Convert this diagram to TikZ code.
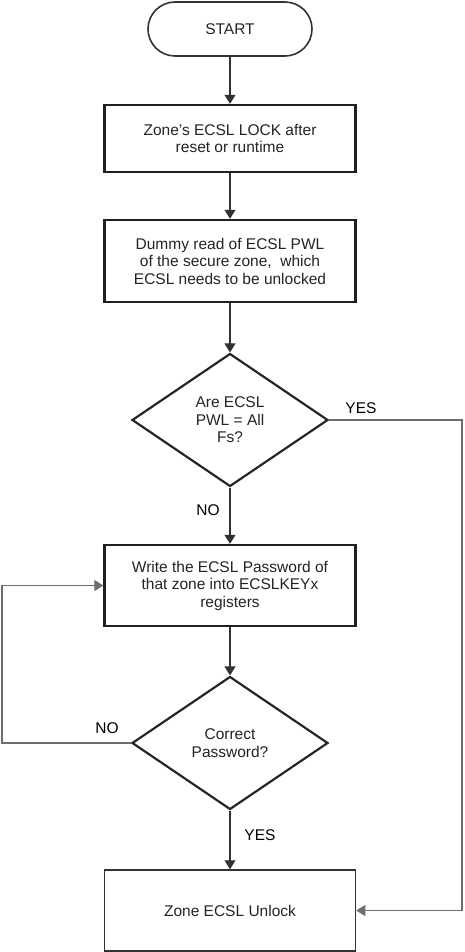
\documentclass[tikz,border=0pt]{standalone}
\usepackage{fontspec}
\setmainfont{Liberation Sans}
\usepackage{tikz}
\usetikzlibrary{shapes.geometric,arrows.meta}
\definecolor{txt}{RGB}{35,35,35}
\definecolor{ln}{RGB}{50,50,50}
\definecolor{lnl}{RGB}{110,110,110}
\tikzstyle{term}=[shape=rectangle,draw=ln,line width=1.6pt,rounded corners=27pt,minimum width=164pt,minimum height=54pt,text=txt]
\tikzstyle{pb}=[shape=rectangle,draw=black!88,line width=2.4pt,minimum width=251pt,inner sep=0pt,align=center,text=txt]
\tikzstyle{dec}=[shape=diamond,draw=black!85,line width=2.2pt,minimum width=196pt,minimum height=133pt,aspect=1.47,inner sep=0pt,align=center,text=txt]
\tikzstyle{lbl}=[inner sep=0pt,text=black]
\tikzstyle{from}=[<-,>={Triangle[length=9pt,width=11pt]},draw=ln,line width=1.2pt]
\tikzstyle{to}=[->,>={Triangle[length=9pt,width=11pt]},draw=ln,line width=1.2pt]

\begin{document}
\begin{tikzpicture}[x=1pt,y=-1pt,font=\fontsize{15.5}{17.5}\selectfont]
            \useasboundingbox (0,0) rectangle (464,952);
            \node[term] (start) at (230, 29) {START}
            ;
            \node[pb, minimum height=67pt] (lock) at (230, 138.5) {Zone's ECSL LOCK after\\reset or runtime}
                edge[from] (start)
            ;
            \node[pb, minimum height=82pt] (dummy) at (230, 261) {Dummy read of ECSL PWL\\of the secure zone,\ \ which\\ECSL needs to be unlocked}
                edge[from] (lock)
            ;
            \node[dec] (allfs) at (230, 420) {Are ECSL\\PWL = All\\Fs?}
                edge[from] (dummy)
            ;
            \node[pb, minimum height=81pt] (write) at (230, 585.5) {Write the ECSL Password of\\that zone into ECSLKEYx\\registers}
                edge[from] (allfs)
            ;
            \node[dec] (pwd) at (230, 743) {Correct\\Password?}
                edge[from] (write)
            ;
            \node[pb, draw=black!80, line width=1.5pt, minimum height=81pt] (unlock) at (230, 910.5) {Zone ECSL Unlock}
                edge[from] (pwd)
            ;
            % labels
            \node[lbl] (yes1) at (361, 408) {YES};
            \node[lbl] (no1) at (208, 510) {NO};
            \node[lbl] (no2) at (107, 728) {NO};
            \node[lbl] (yes2) at (260, 835) {YES};
            % side lines
            \coordinate (rt) at (462, 420);
            \coordinate (lt) at (2, 743);
            \draw[to, draw=lnl] (allfs.east) -- (rt) |- (unlock.east);
            \draw[to, draw=lnl] (pwd.west) -- (lt) |- (write.west);
        \end{tikzpicture}
\end{document}
